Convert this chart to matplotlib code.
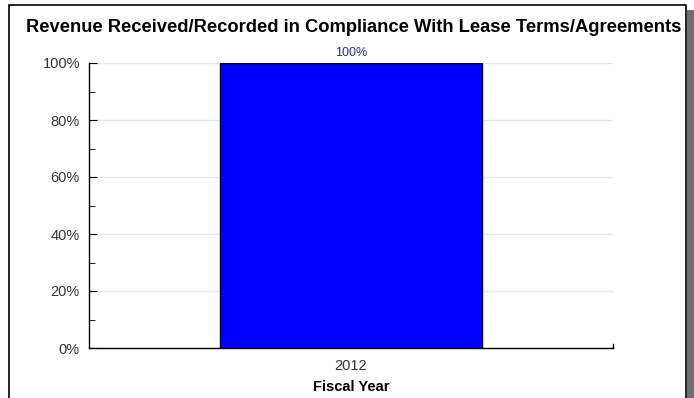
import matplotlib
matplotlib.use("Agg")
import matplotlib.pyplot as plt
from matplotlib.patches import Rectangle
from matplotlib.ticker import MultipleLocator, FuncFormatter

years = ["2012"]
compliance = [100]
value_labels = ["100%"]

plt.rcParams['font.family'] = ['Liberation Sans', 'DejaVu Sans']

fig = plt.figure(figsize=(6.94, 3.98), dpi=100)
W, H = 694, 398

# outer frame with shadow on right
fig.patches.append(Rectangle((687 / W, 0), 7 / W, (H - 10) / H, transform=fig.transFigure,
                             facecolor="#707070", edgecolor="none", zorder=0))
fig.patches.append(Rectangle((9 / W, -0.05), (686 - 9) / W, (H - 5) / H + 0.05,
                             transform=fig.transFigure, facecolor="white",
                             edgecolor="black", linewidth=1.2, zorder=1))

ax = fig.add_axes([89 / W, (H - 348) / H, (613 - 89) / W, (348 - 63) / H])
ax.set_zorder(2)
ax.patch.set_alpha(0)

x = list(range(len(years)))
ax.bar(x, compliance, width=1.0, color="#0000ff", edgecolor="black", linewidth=1, zorder=3)
for xi, v, lab in zip(x, compliance, value_labels):
    ax.annotate(lab, (xi, v), xytext=(0, 3), textcoords="offset points",
                ha="center", va="bottom", fontsize=9, color="#2a2a9a")

ax.set_xlim(-1, 1)
ax.set_ylim(0, 100)
ax.set_xticks(x)
ax.set_xticklabels(years, fontsize=10.5, color="#333333")
ax.yaxis.set_major_locator(MultipleLocator(20))
ax.yaxis.set_minor_locator(MultipleLocator(10))
ax.yaxis.set_major_formatter(FuncFormatter(lambda v, p: f"{int(v)}%"))
ax.tick_params(axis="y", which="major", direction="in", length=6, labelsize=10.5,
               labelcolor="#333333", pad=6.5)
ax.tick_params(axis="y", which="minor", direction="in", length=4)
ax.tick_params(axis="x", length=0, pad=8)
ax.grid(axis="y", color="#e6e6e6", linewidth=1, zorder=0)

for s in ["top", "right"]:
    ax.spines[s].set_visible(False)
ax.spines["left"].set_linewidth(1)
ax.spines["bottom"].set_linewidth(1)
# small end tick at right of x axis
ax.plot([1, 1], [0, 1.5], color="black", linewidth=1, clip_on=False, zorder=4)

ax.set_xlabel("Fiscal Year", fontsize=10.5, fontweight="bold", labelpad=5)
fig.text(354 / W, 1 - 27 / H, "Revenue Received/Recorded in Compliance With Lease Terms/Agreements",
         ha="center", va="center", fontsize=13.2, fontweight="bold")

fig.savefig("out.png", dpi=100)
